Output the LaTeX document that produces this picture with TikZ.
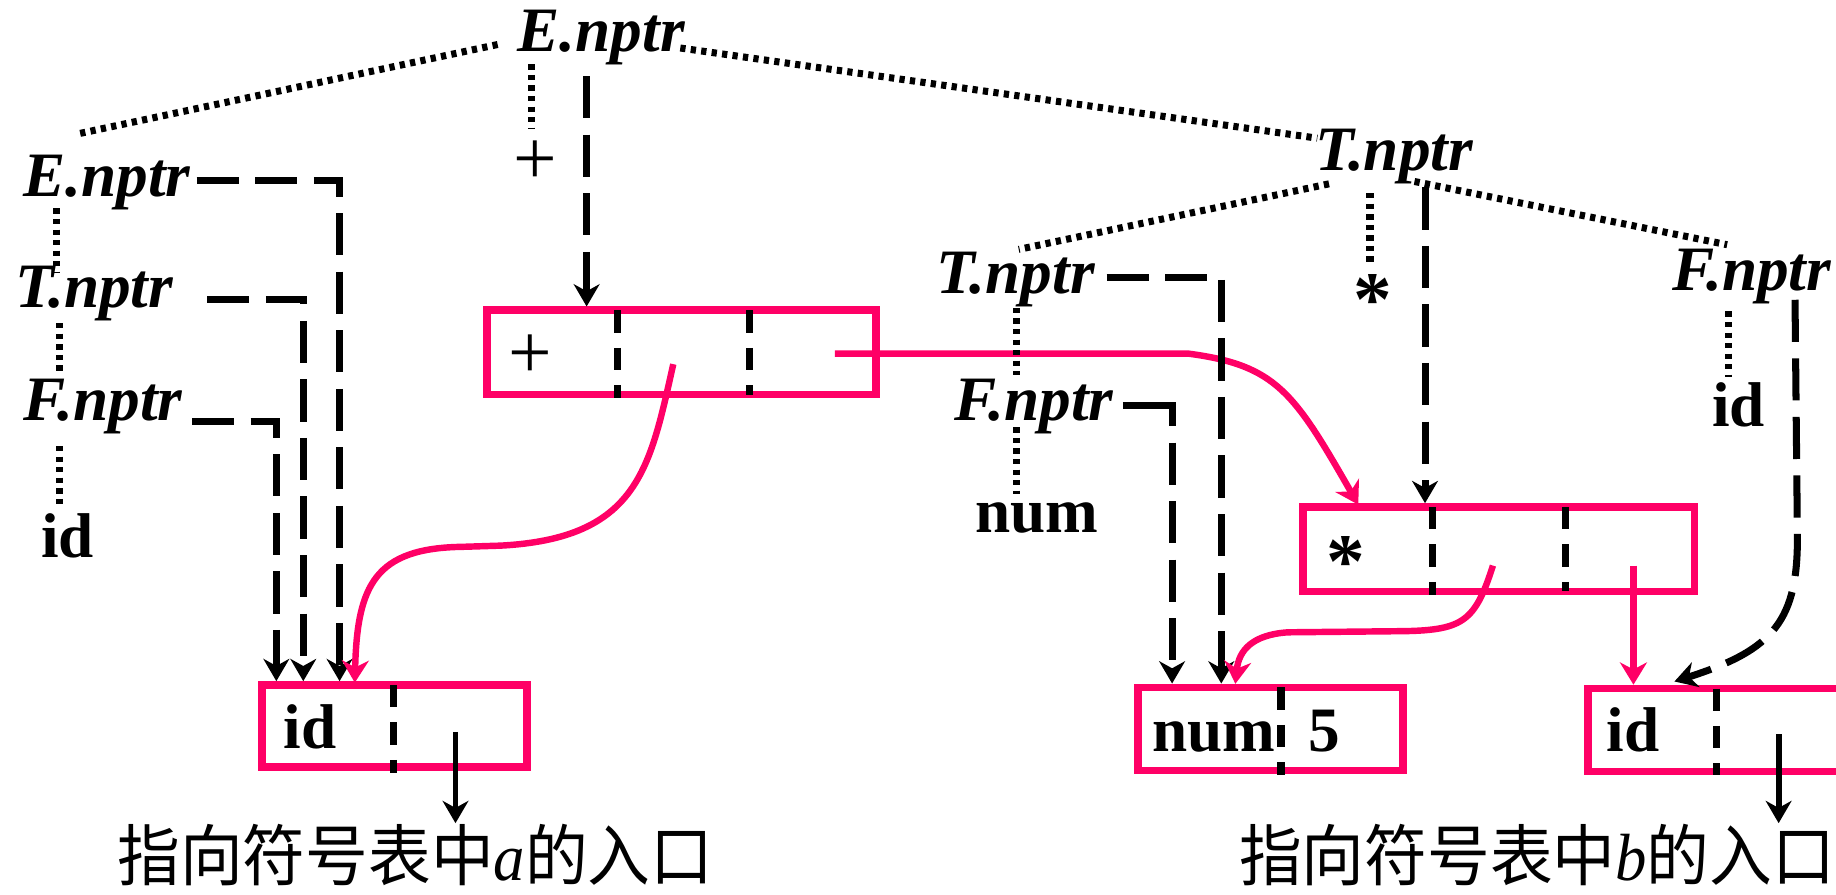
\documentclass[tikz,border=0pt]{standalone}
\usepackage{fontspec}
\setmainfont{Liberation Serif}
\newfontfamily\cjkfont{Noto Sans CJK SC}
\usetikzlibrary{arrows.meta}
\definecolor{pk}{RGB}{255,0,102}
\begin{document}
\begin{tikzpicture}[x=1pt,y=-1pt,
  lab/.style={font=\fontsize{54}{60}\selectfont\bfseries\itshape, inner sep=0pt, anchor=base west},
  bld/.style={font=\fontsize{54}{60}\selectfont\bfseries, inner sep=0pt, anchor=base west},
  sym/.style={font=\fontsize{66}{70}\selectfont, inner sep=0pt},
  rbox/.style={draw=pk, line width=6.5pt, minimum width=226pt, minimum height=71pt, inner sep=0pt},
  dotl/.style={line width=6pt, dash pattern=on 4.5pt off 4.5pt},
  dashl/.style={line width=6pt, dash pattern=on 36pt off 14pt},
  divl/.style={line width=6pt, dash pattern=on 19pt off 13pt},
  bar/.style={-{Stealth[length=19pt,width=22pt,inset=6pt]}},
  pkl/.style={draw=pk, line width=5.5pt, -{Stealth[length=19pt,width=23pt,inset=6pt]}},
  note/.style={font=\fontsize{57}{60}\selectfont, inner sep=0pt, anchor=base west}]
\path[use as bounding box, clip] (0,0) rectangle (1568,763.6);

% ---------- labels ----------
\node[lab] (E0) at (442,44) {E.nptr};
\node[lab] (E1) at (20,168) {E.nptr};
\node[lab] (T1) at (13,263) {T.nptr};
\node[lab] (F1) at (20,359) {F.nptr};
\node[bld] (id1) at (35,476) {id};
\node[sym] (plus0) at (457,139) {+};
\node[lab] (T2) at (1123,146) {T.nptr};
\node[lab] (T3) at (800,251) {T.nptr};
\node[lab] (F3) at (815,359) {F.nptr};
\node[bld] (num3) at (833,455) {num};
\node[sym, font=\fontsize{66}{70}\selectfont\bfseries] (star2) at (1172,256) {*};
\node[lab] (F2) at (1428,248) {F.nptr};
\node[bld] (id2) at (1462,364) {id};

% ---------- boxes ----------
\node[rbox, minimum width=332pt, minimum height=72pt] (bplus) at (582,301) {};
\node[rbox, minimum width=334pt, minimum height=72pt] (bstar) at (1280,469) {};
\node[rbox, minimum height=70pt] (bida) at (337,620) {};
\node[rbox] (bnum) at (1085,622.5) {};
\node[rbox] (bidb) at (1469,623.5) {};

\node[sym] (plus1) at (453,305) {+};
\node[sym, font=\fontsize{66}{70}\selectfont\bfseries] (star1) at (1149,480) {*};
\node[bld] (id3) at (242,639) {id};
\node[bld] (num1) at (984,642) {num};
\node[bld] (five) at (1117,642) {5};
\node[bld] (id4) at (1372,642) {id};

% dividers
\draw[divl] (527,265) -- (527,340);
\draw[divl] (640,265) -- (640,337);
\draw[divl] (1223,433) -- (1223,508);
\draw[divl] (1337,433) -- (1337,505);
\draw[divl] (336,585) -- (336,660);
\draw[divl] (1094,587) -- (1094,662);
\draw[divl] (1466,588) -- (1466,662);

% ---------- left tree ----------
\draw[dotl] (425,38) -- (68,114);
\draw[dotl] (581,41) -- (1125,118);
\draw[dotl] (454,55) -- (454,110);
\draw[dashl, bar] (501,65) -- (501,0 |- bplus.north);

\draw[dotl] (48,178) -- (48,233);
\draw[dotl] (51,276) -- (51,320);
\draw[dotl] (51,381) -- (51,432);
\draw[dashl, bar] (168,154) -| (290,0 |- bida.north);
\draw[dashl, bar] (177,256) -| (259,0 |- bida.north);
\draw[dashl, bar] (164,360) -| (236,0 |- bida.north);

\draw[pkl] (575,311) .. controls (555,400) and (545,460) .. (427,466) -- (395,467) .. controls (320,468) and (305,500) .. (303,583);
\draw[pkl] (713,302) -- (1015,302) .. controls (1090,312) and (1105,335) .. (1160,431);

\draw[line width=5pt, bar] (389,625) -- (389,703);
\node[note] (ta) at (100,752) {\scalebox{0.94}[1]{{\cjkfont 指向符号表中}{\itshape a}{\cjkfont 的入口}}};

% ---------- right tree ----------
\draw[dotl] (1135,157) -- (870,213);
\draw[dotl] (1208,155) -- (1475,209);
\draw[dotl] (1170,165) -- (1170,225);
\draw[dashl, bar] (1217,160) -- (1217,0 |- bstar.north);
\draw[dotl] (868,263) -- (868,320);
\draw[dotl] (868,365) -- (868,422);
\draw[dashl, bar] (945,237) -| (1043,0 |- bnum.north);
\draw[line width=6pt, dash pattern=on 60pt off 14pt on 36pt off 14pt on 36pt off 14pt on 36pt off 14pt on 36pt off 14pt, bar] (959,346) -| (1001,0 |- bnum.north);
\draw[dotl] (1476,266) -- (1476,322);
\draw[dashl, bar] (1533,256) -- (1535,455) .. controls (1536,530) and (1515,555) .. (1430,582);

\draw[pkl] (1275,483) .. controls (1260,530) and (1250,538) .. (1200,539) -- (1100,540) .. controls (1070,542) and (1058,555) .. (1055,584);
\draw[pkl] (1395,483) -- (1395,0 |- bidb.north);

\draw[line width=5pt, bar] (1519,627) -- (1519,703);
\node[note] (tb) at (1058,752) {\scalebox{0.94}[1]{{\cjkfont 指向符号表中}{\itshape b}{\cjkfont 的入口}}};
\end{tikzpicture}
\end{document}
